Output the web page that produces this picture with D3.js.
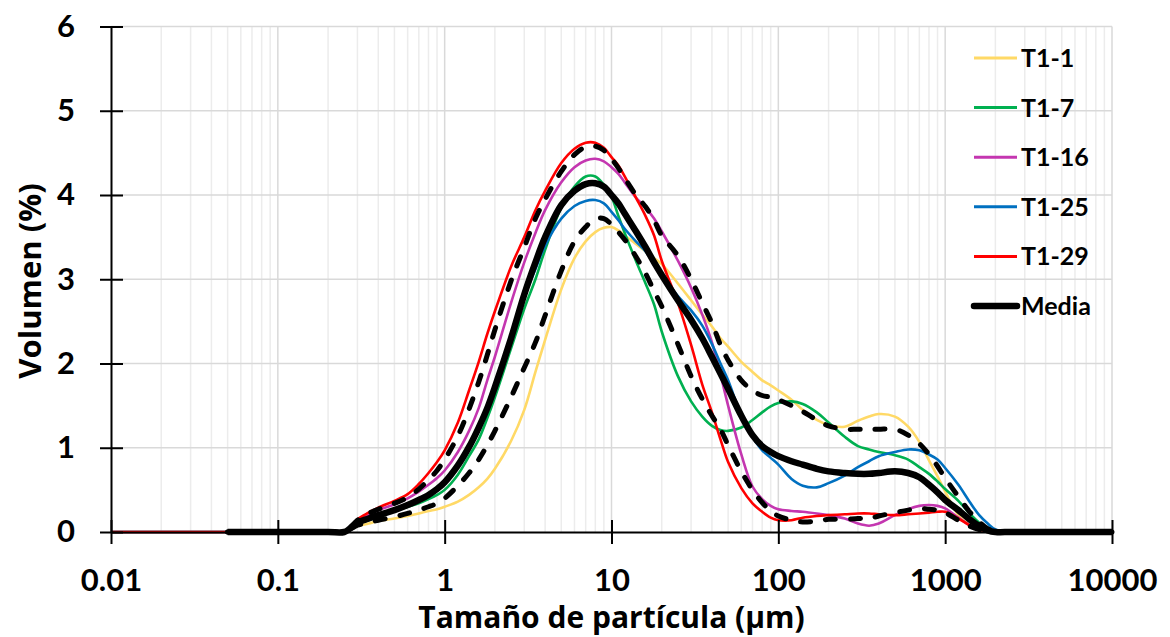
<!DOCTYPE html>
<html>
<head>
<meta charset="utf-8">
<script src="https://cdn.jsdelivr.net/npm/d3@7"></script>
<style>
  html, body { margin: 0; padding: 0; background: #fff; }
  svg { display: block; font-family: Lato, "Open Sans", sans-serif; font-weight: 700; }
</style>
</head>
<body>
<svg id="chart" width="1170" height="637"></svg>
<script>
// Particle size classes (µm)
const sizes = [0.01, 0.05, 0.1, 0.2, 0.25, 0.27, 0.3, 0.35, 0.4, 0.5,
  0.6, 0.7, 0.8, 0.9, 1, 1.2, 1.4, 1.6, 1.8, 2,
  2.5, 3, 3.5, 4, 5, 6, 7, 8, 9, 10,
  11, 12, 14, 16, 18, 20, 25, 30, 35, 40,
  45, 50, 60, 70, 80, 90, 100, 120, 140, 170,
  200, 250, 300, 350, 400, 500, 600, 700, 800, 900,
  1000, 1200, 1400, 1600, 1800, 2000, 2500, 5000, 10000];

// Volume (%) per size class for each sample
const t1_1 = [0, 0, 0, 0, 0, 0.03, 0.07, 0.10, 0.13, 0.16,
  0.19, 0.22, 0.25, 0.27, 0.30, 0.36, 0.44, 0.53, 0.63, 0.75,
  1.08, 1.45, 1.90, 2.28, 2.88, 3.25, 3.45, 3.56, 3.61, 3.62,
  3.58, 3.52, 3.42, 3.33, 3.25, 3.18, 2.95, 2.75, 2.58, 2.44,
  2.30, 2.20, 2.02, 1.90, 1.80, 1.74, 1.68, 1.57, 1.45, 1.33,
  1.27, 1.25, 1.32, 1.37, 1.40, 1.37, 1.25, 1.07, 0.85, 0.66,
  0.48, 0.20, 0.08, 0.02, 0, 0, 0, 0, 0];

const t1_7 = [0, 0, 0, 0, 0, 0.04, 0.10, 0.16, 0.20, 0.25,
  0.30, 0.34, 0.39, 0.44, 0.50, 0.68, 0.90, 1.10, 1.35, 1.60,
  2.18, 2.65, 3.00, 3.35, 3.85, 4.10, 4.22, 4.22, 4.12, 3.98,
  3.75, 3.55, 3.22, 2.95, 2.70, 2.38, 1.85, 1.55, 1.37, 1.26,
  1.21, 1.20, 1.24, 1.33, 1.42, 1.49, 1.53, 1.55, 1.52, 1.42,
  1.30, 1.13, 1.02, 0.98, 0.95, 0.91, 0.86, 0.77, 0.69, 0.60,
  0.51, 0.37, 0.22, 0.11, 0.04, 0, 0, 0, 0];

const t1_16 = [0, 0, 0, 0, 0, 0.05, 0.13, 0.20, 0.26, 0.33,
  0.40, 0.48, 0.56, 0.64, 0.73, 0.95, 1.20, 1.47, 1.80, 2.08,
  2.72, 3.20, 3.55, 3.82, 4.15, 4.33, 4.41, 4.43, 4.40, 4.33,
  4.25, 4.15, 3.97, 3.85, 3.72, 3.57, 3.22, 2.90, 2.58, 2.25,
  1.87, 1.50, 0.92, 0.54, 0.39, 0.31, 0.27, 0.25, 0.24, 0.22,
  0.20, 0.16, 0.10, 0.075, 0.10, 0.20, 0.27, 0.31, 0.32, 0.31,
  0.28, 0.17, 0.08, 0.03, 0.01, 0, 0, 0, 0];

const t1_25 = [0, 0, 0, 0, 0, 0.04, 0.10, 0.14, 0.18, 0.25,
  0.31, 0.37, 0.43, 0.49, 0.57, 0.77, 0.98, 1.20, 1.43, 1.67,
  2.25, 2.78, 3.12, 3.40, 3.72, 3.87, 3.93, 3.94, 3.90, 3.80,
  3.70, 3.60, 3.45, 3.33, 3.18, 3.05, 2.80, 2.63, 2.45, 2.23,
  2.00, 1.80, 1.38, 1.13, 0.97, 0.88, 0.80, 0.63, 0.55, 0.53,
  0.58, 0.67, 0.77, 0.84, 0.90, 0.95, 0.98, 0.97, 0.92, 0.86,
  0.76, 0.56, 0.36, 0.20, 0.10, 0.03, 0, 0, 0];

const t1_29 = [0, 0, 0, 0, 0, 0.05, 0.15, 0.23, 0.29, 0.37,
  0.45, 0.57, 0.70, 0.83, 0.97, 1.30, 1.68, 2.02, 2.35, 2.62,
  3.15, 3.50, 3.82, 4.05, 4.38, 4.55, 4.62, 4.62, 4.56, 4.45,
  4.35, 4.22, 3.97, 3.75, 3.52, 3.22, 2.72, 2.22, 1.75, 1.42,
  1.10, 0.83, 0.52, 0.34, 0.24, 0.17, 0.14, 0.14, 0.17, 0.19,
  0.20, 0.21, 0.22, 0.22, 0.21, 0.20, 0.21, 0.22, 0.23, 0.24,
  0.24, 0.16, 0.08, 0.03, 0.01, 0, 0, 0, 0];

const media = [null, 0, 0, 0, 0, 0.04, 0.11, 0.16, 0.20, 0.26,
  0.32, 0.38, 0.44, 0.51, 0.59, 0.79, 1.01, 1.24, 1.47, 1.72,
  2.30, 2.82, 3.20, 3.50, 3.88, 4.05, 4.13, 4.14, 4.10, 4.00,
  3.90, 3.78, 3.57, 3.38, 3.20, 3.05, 2.75, 2.52, 2.30, 2.08,
  1.88, 1.70, 1.38, 1.15, 1.02, 0.95, 0.90, 0.84, 0.80, 0.75,
  0.72, 0.70, 0.69, 0.69, 0.70, 0.72, 0.70, 0.65, 0.56, 0.47,
  0.38, 0.26, 0.15, 0.07, 0.02, 0, 0, 0, 0];

// Mean plus / minus one standard deviation
const mediaMas = [null, 0, 0, 0, 0, 0.05, 0.14, 0.22, 0.27, 0.34,
  0.41, 0.51, 0.62, 0.73, 0.86, 1.14, 1.46, 1.78, 2.10, 2.40,
  2.98, 3.38, 3.72, 3.95, 4.28, 4.48, 4.57, 4.58, 4.53, 4.43,
  4.32, 4.20, 4.00, 3.86, 3.70, 3.52, 3.28, 3.00, 2.72, 2.48,
  2.22, 2.04, 1.80, 1.68, 1.62, 1.60, 1.57, 1.50, 1.43, 1.33,
  1.26, 1.22, 1.22, 1.22, 1.22, 1.22, 1.15, 1.05, 0.92, 0.78,
  0.64, 0.42, 0.24, 0.12, 0.04, 0.01, 0, 0, 0];

const mediaMenos = [null, 0, 0, 0, 0, 0.03, 0.08, 0.11, 0.14, 0.18,
  0.22, 0.26, 0.30, 0.34, 0.40, 0.55, 0.70, 0.86, 1.03, 1.20,
  1.60, 1.95, 2.25, 2.57, 3.10, 3.45, 3.62, 3.72, 3.72, 3.65,
  3.56, 3.47, 3.27, 3.07, 2.86, 2.68, 2.23, 1.85, 1.58, 1.38,
  1.22, 1.03, 0.72, 0.50, 0.35, 0.25, 0.19, 0.14, 0.12, 0.13,
  0.15, 0.15, 0.16, 0.16, 0.19, 0.23, 0.26, 0.28, 0.27, 0.26,
  0.23, 0.14, 0.07, 0.03, 0.01, 0, 0, 0, 0];

const xTicks = [0.01, 0.1, 1, 10, 100, 1000, 10000];
const xTickLabels = ["0.01", "0.1", "1", "10", "100", "1000", "10000"];
const yTicks = [0, 1, 2, 3, 4, 5, 6];
const legendNames = ["T1-1", "T1-7", "T1-16", "T1-25", "T1-29", "Media"];

const svg = d3.select("#chart");
const x = d3.scaleLog().domain([0.01, 10000]).range([111, 1112]);
const y = d3.scaleLinear().domain([0, 6]).range([532, 26.5]);

// Grid: minor log lines, decade lines, horizontal lines
const grid = svg.append("g");
const minor = [];
for (let e = -2; e < 4; e++) for (let k = 2; k <= 9; k++) minor.push(k * Math.pow(10, e));
grid.selectAll(".minor").data(minor).join("line")
  .attr("x1", d => x(d)).attr("x2", d => x(d))
  .attr("y1", y(0)).attr("y2", y(6))
  .attr("stroke", "#ececec").attr("stroke-width", 1.5);
grid.selectAll(".major").data(xTicks.slice(1)).join("line")
  .attr("x1", d => x(d)).attr("x2", d => x(d))
  .attr("y1", y(0)).attr("y2", y(6))
  .attr("stroke", "#d9d9d9").attr("stroke-width", 1.5);
grid.selectAll(".hline").data(yTicks.slice(1)).join("line")
  .attr("x1", x(0.01)).attr("x2", x(10000))
  .attr("y1", d => y(d)).attr("y2", d => y(d))
  .attr("stroke", "#d9d9d9").attr("stroke-width", 1.5);

// Series
const series = [
  { name: "T1-1", values: t1_1, color: "#FFD966", width: 2.6 },
  { name: "T1-7", values: t1_7, color: "#00B050", width: 2.6 },
  { name: "T1-16", values: t1_16, color: "#C436B0", width: 2.6 },
  { name: "T1-25", values: t1_25, color: "#0070C0", width: 2.6 },
  { name: "T1-29", values: t1_29, color: "#FF0000", width: 2.6 },
  { name: "Media", values: media, color: "#000000", width: 6.5 },
  { name: "Media+DE", values: mediaMas, color: "#000000", width: 5, dash: "10 15" },
  { name: "Media-DE", values: mediaMenos, color: "#000000", width: 5, dash: "10 15" }
];

const line = d3.line()
  .defined(d => d[1] !== null)
  .x(d => x(d[0]))
  .y(d => y(d[1]))
  .curve(d3.curveCatmullRom.alpha(0.5));

svg.append("g").selectAll("path").data(series).join("path")
  .attr("d", s => line(sizes.map((v, i) => [v, s.values[i]])))
  .attr("fill", "none")
  .attr("stroke", s => s.color)
  .attr("stroke-width", s => s.width)
  .attr("stroke-dasharray", s => s.dash || null)
  .attr("stroke-linecap", s => s.dash ? "round" : "butt")
  .attr("stroke-linejoin", "round");

// X axis
const xAxis = svg.append("g").attr("transform", `translate(0,${y(0)})`)
  .call(d3.axisBottom(x).tickValues(xTicks)
    .tickFormat((d, i) => xTickLabels[i]).tickSizeOuter(0));
xAxis.select(".domain").attr("stroke", "#000").attr("stroke-width", 2);
xAxis.selectAll(".tick line").attr("y1", -12).attr("y2", 12)
  .attr("stroke", "#000").attr("stroke-width", 2);
xAxis.selectAll(".tick text").attr("y", 59).attr("dy", null)
  .attr("font-size", 31).attr("font-weight", 700)
  .attr("font-family", "Lato, 'Open Sans', sans-serif").attr("fill", "#000");

// Y axis
const yAxis = svg.append("g").attr("transform", `translate(${x(0.01)},0)`)
  .call(d3.axisLeft(y).tickValues(yTicks).tickFormat(d3.format("d")).tickSizeOuter(0));
yAxis.select(".domain").attr("stroke", "#000").attr("stroke-width", 2);
yAxis.selectAll(".tick line").attr("x1", -11).attr("x2", 12)
  .attr("stroke", "#000").attr("stroke-width", 2);
yAxis.selectAll(".tick text").attr("x", -36)
  .attr("font-size", 31).attr("font-weight", 700)
  .attr("font-family", "Lato, 'Open Sans', sans-serif").attr("fill", "#000");

// Axis titles
svg.append("text")
  .attr("x", (x(0.01) + x(10000)) / 2).attr("y", 628)
  .attr("text-anchor", "middle").attr("font-size", 30)
  .attr("font-family", "'Open Sans', Lato, sans-serif")
  .text("Tamaño de partícula (µm)");
svg.append("text")
  .attr("transform", "translate(41,281) rotate(-90)")
  .attr("text-anchor", "middle").attr("font-size", 31)
  .attr("font-family", "'Open Sans', Lato, sans-serif")
  .text("Volumen (%)");

// Legend
const legend = svg.append("g");
const legendItems = series.slice(0, 6);
legendItems.forEach((s, i) => {
  const ly = 58 + i * 49.6;
  const thick = s.name === "Media";
  legend.append("line")
    .attr("x1", 974).attr("x2", 1017).attr("y1", ly).attr("y2", ly)
    .attr("stroke", s.color).attr("stroke-width", thick ? 6.5 : 3)
    .attr("stroke-linecap", thick ? "round" : "butt");
  legend.append("text")
    .attr("x", 1021).attr("y", ly).attr("dy", "0.36em")
    .attr("font-size", 25).text(legendNames[i]);
});
</script>
</body>
</html>
